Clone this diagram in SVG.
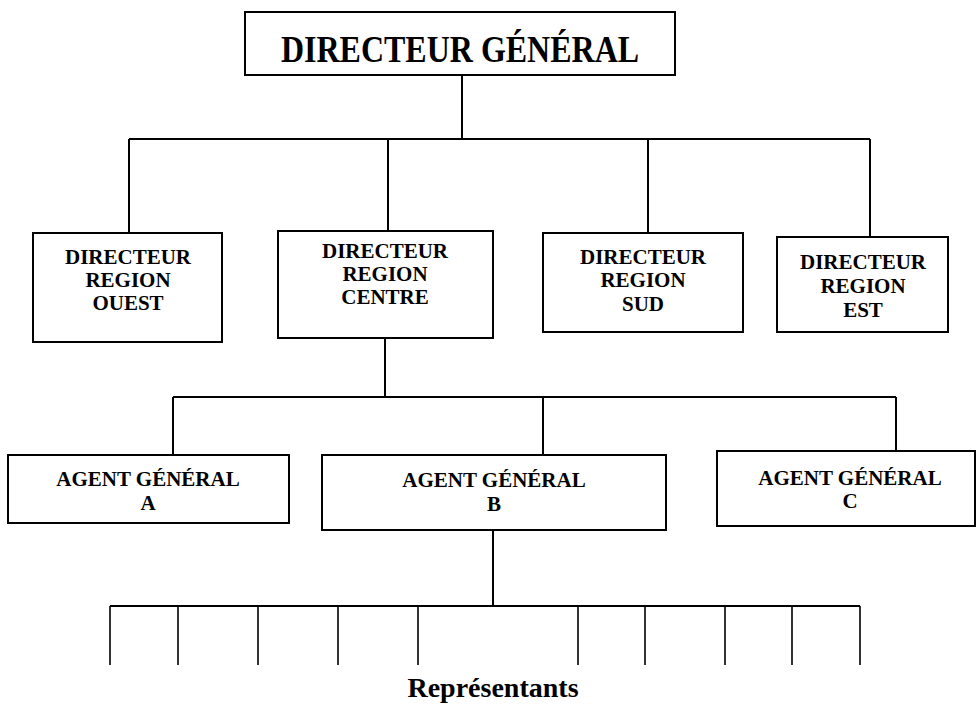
<svg xmlns="http://www.w3.org/2000/svg" width="980" height="704" viewBox="0 0 980 704">
  <style>
    .box { fill: #ffffff; stroke: #000000; stroke-width: 2; }
    .lbl { font-family: "Liberation Serif", "Times New Roman", serif; font-weight: bold; fill: #000000; text-anchor: middle; }
    .t21 { font-size: 21px; }
    .t32 { font-size: 32px; }
    .t28 { font-size: 28px; }
    .link { fill: none; stroke: #000000; stroke-width: 2; }
    .rep { fill: none; stroke: #000000; stroke-width: 1.6; }
  </style>
  <rect width="980" height="704" fill="#ffffff"/>

  <!-- connectors -->
  <g id="connectors">
    <!-- directeur général to regional directors -->
    <path class="link" d="M462 75 V139 M129 139 H870 M129 139 V233 M388 139 V231 M648 139 V233 M870 139 V237"/>
    <!-- regional centre to general agents -->
    <path class="link" d="M385 338 V397 M173 397 H896 M173 397 V455 M543 397 V455 M896 397 V451"/>
    <!-- agent B to representatives -->
    <path class="link" d="M493 530 V606"/>
    <path class="link" stroke-width="2.6" d="M110 606 H860"/>
    <path class="rep" d="M110 606 V665 M178 606 V665 M258 606 V665 M338 606 V665 M418 606 V665 M578 606 V665 M645 606 V665 M725 606 V665 M792 606 V665 M860 606 V665"/>
  </g>

  <g id="dg">
    <rect class="box" x="245" y="12" width="430" height="63"/>
    <text class="lbl t32" transform="translate(460 62) scale(1 1.18)">DIRECTEUR GÉNÉRAL</text>
  </g>

  <g id="dr-ouest">
    <rect class="box" x="33" y="233" width="189" height="109"/>
    <text class="lbl t21" x="128" y="264">DIRECTEUR</text>
    <text class="lbl t21" x="128" y="287">REGION</text>
    <text class="lbl t21" x="128" y="310">OUEST</text>
  </g>

  <g id="dr-centre">
    <rect class="box" x="278" y="231" width="215" height="107"/>
    <text class="lbl t21" x="385" y="258">DIRECTEUR</text>
    <text class="lbl t21" x="385" y="281">REGION</text>
    <text class="lbl t21" x="385" y="304">CENTRE</text>
  </g>

  <g id="dr-sud">
    <rect class="box" x="543" y="233" width="200" height="99"/>
    <text class="lbl t21" x="643" y="264">DIRECTEUR</text>
    <text class="lbl t21" x="643" y="287">REGION</text>
    <text class="lbl t21" x="643" y="311">SUD</text>
  </g>

  <g id="dr-est">
    <rect class="box" x="777" y="237" width="171" height="95"/>
    <text class="lbl t21" x="863" y="269">DIRECTEUR</text>
    <text class="lbl t21" x="863" y="293">REGION</text>
    <text class="lbl t21" x="863" y="317">EST</text>
  </g>

  <g id="agent-a">
    <rect class="box" x="8" y="455" width="281" height="68"/>
    <text class="lbl t21" x="148" y="486">AGENT GÉNÉRAL</text>
    <text class="lbl t21" x="148" y="510">A</text>
  </g>

  <g id="agent-b">
    <rect class="box" x="322" y="455" width="344" height="75"/>
    <text class="lbl t21" x="494" y="487">AGENT GÉNÉRAL</text>
    <text class="lbl t21" x="494" y="511">B</text>
  </g>

  <g id="agent-c">
    <rect class="box" x="717" y="451" width="258" height="75"/>
    <text class="lbl t21" x="850" y="485">AGENT GÉNÉRAL</text>
    <text class="lbl t21" x="850" y="508">C</text>
  </g>

  <g id="representants">
    <text class="lbl t28" x="493" y="697">Représentants</text>
  </g>
</svg>
